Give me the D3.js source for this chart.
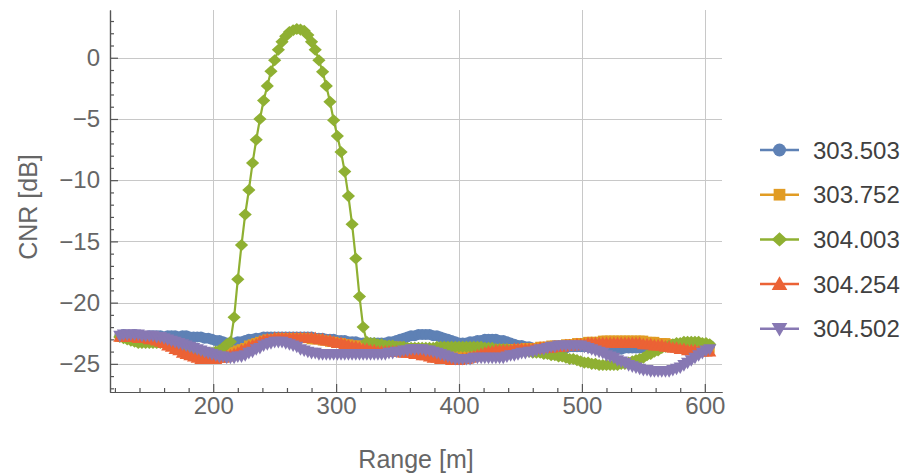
<!DOCTYPE html>
<html><head><meta charset="utf-8">
<script src="https://cdn.jsdelivr.net/npm/d3@7"></script>
<style>body{margin:0;background:#fff;} svg{display:block;}</style>
</head><body><svg id="c" width="908" height="475"></svg>
<script>
// ---------- data ----------
const seriesNames = ["303.503","303.752","304.003","304.254","304.502"];
const colors = ["#5E81B5","#E19C24","#8FB032","#EB6235","#8778B3"];
const markerKinds = ["circle","square","diamond","triUp","triDown"];
const xTicks = [200,300,400,500,600];
const yTicks = [0,-5,-10,-15,-20,-25];
const xLabel = "Range [m]";
const yLabel = "CNR [dB]";
// range gates (m)
const ranges = d3.range(124, 605, 3);

const s303503 = [
-22.7,-22.6,-22.7,-22.7,-22.6,-22.7,-22.7,-22.8,-22.7,-22.7,
-22.7,-22.7,-22.8,-22.7,-22.7,-22.7,-22.8,-22.7,-22.7,-22.8,
-22.8,-22.8,-22.8,-22.9,-22.9,-23.0,-23.1,-23.1,-23.2,-23.3,
-23.3,-23.3,-23.2,-23.2,-23.1,-23.0,-23.0,-22.9,-22.9,-22.8,
-22.8,-22.8,-22.8,-22.8,-22.8,-22.8,-22.8,-22.8,-22.8,-22.8,
-22.8,-22.8,-22.8,-22.9,-22.9,-22.9,-23.0,-23.0,-23.0,-23.1,
-23.1,-23.1,-23.2,-23.2,-23.2,-23.3,-23.3,-23.3,-23.3,-23.3,
-23.3,-23.3,-23.3,-23.2,-23.2,-23.1,-23.0,-22.9,-22.8,-22.7,
-22.7,-22.6,-22.6,-22.6,-22.6,-22.7,-22.7,-22.8,-22.9,-23.0,
-23.1,-23.2,-23.3,-23.3,-23.3,-23.2,-23.2,-23.1,-23.1,-23.0,
-23.0,-23.0,-23.0,-23.1,-23.1,-23.2,-23.3,-23.4,-23.5,-23.5,
-23.6,-23.6,-23.7,-23.7,-23.7,-23.7,-23.7,-23.7,-23.7,-23.7,
-23.7,-23.7,-23.6,-23.6,-23.6,-23.6,-23.6,-23.6,-23.7,-23.7,
-23.7,-23.8,-23.8,-23.8,-23.8,-23.8,-23.8,-23.7,-23.7,-23.7,
-23.7,-23.7,-23.7,-23.6,-23.6,-23.6,-23.6,-23.6,-23.6,-23.6,
-23.6,-23.6,-23.6,-23.6,-23.6,-23.5,-23.5,-23.5,-23.5,-23.5,-23.5];

const s303752 = [
-22.8,-22.8,-22.8,-22.8,-22.9,-22.9,-22.9,-23.0,-23.0,-23.1,
-23.1,-23.2,-23.3,-23.4,-23.5,-23.7,-23.8,-23.9,-24.0,-24.1,
-24.2,-24.3,-24.4,-24.4,-24.4,-24.4,-24.4,-24.3,-24.3,-24.2,
-24.1,-24.0,-23.9,-23.8,-23.7,-23.5,-23.4,-23.3,-23.2,-23.1,
-23.0,-23.0,-23.0,-22.9,-22.9,-22.9,-22.9,-22.9,-22.9,-22.9,
-22.9,-22.9,-23.0,-23.0,-23.0,-23.1,-23.1,-23.2,-23.2,-23.3,
-23.3,-23.4,-23.4,-23.5,-23.5,-23.5,-23.6,-23.6,-23.6,-23.6,
-23.6,-23.6,-23.6,-23.6,-23.6,-23.6,-23.6,-23.7,-23.7,-23.7,
-23.7,-23.8,-23.8,-23.9,-23.9,-24.0,-24.0,-24.1,-24.1,-24.2,
-24.2,-24.2,-24.2,-24.2,-24.2,-24.1,-24.1,-24.0,-24.0,-23.9,
-23.9,-23.8,-23.8,-23.8,-23.8,-23.8,-23.8,-23.8,-23.8,-23.8,
-23.7,-23.7,-23.7,-23.7,-23.6,-23.6,-23.6,-23.5,-23.5,-23.5,
-23.5,-23.4,-23.4,-23.4,-23.3,-23.3,-23.3,-23.2,-23.2,-23.2,
-23.2,-23.1,-23.1,-23.1,-23.1,-23.1,-23.1,-23.1,-23.1,-23.1,
-23.1,-23.1,-23.1,-23.2,-23.2,-23.2,-23.3,-23.3,-23.3,-23.4,
-23.4,-23.4,-23.5,-23.5,-23.5,-23.6,-23.6,-23.6,-23.7,-23.7,-23.7];

const s304003 = [
-22.8,-22.9,-23.0,-23.1,-23.2,-23.3,-23.3,-23.3,-23.3,-23.3,
-23.3,-23.3,-23.3,-23.4,-23.4,-23.5,-23.6,-23.7,-23.8,-23.9,
-24.0,-24.1,-24.2,-24.2,-24.2,-24.1,-24.0,-23.9,-23.7,-23.4,
-23.2,-21.2,-18.1,-15.3,-12.8,-10.8,-8.6,-6.7,-5.0,-3.5,
-2.3,-1.1,-0.2,0.65,1.3,1.75,2.1,2.25,2.35,2.3,
2.2,1.85,1.3,0.65,-0.2,-1.15,-2.3,-3.6,-5.1,-6.4,
-7.7,-9.3,-11.3,-13.6,-16.4,-19.5,-22.0,-23.2,-23.3,-23.3,
-23.4,-23.4,-23.5,-23.5,-23.5,-23.6,-23.6,-23.6,-23.7,-23.7,
-23.7,-23.7,-23.7,-23.7,-23.7,-23.7,-23.6,-23.6,-23.6,-23.6,
-23.6,-23.6,-23.6,-23.6,-23.6,-23.6,-23.6,-23.6,-23.6,-23.7,
-23.7,-23.7,-23.8,-23.8,-23.8,-23.8,-23.9,-23.9,-23.9,-24.0,
-24.0,-24.0,-24.1,-24.1,-24.1,-24.2,-24.2,-24.3,-24.3,-24.4,
-24.4,-24.5,-24.6,-24.6,-24.7,-24.8,-24.9,-24.9,-25.0,-25.0,
-25.1,-25.1,-25.1,-25.1,-25.1,-25.1,-25.0,-25.0,-24.9,-24.8,
-24.7,-24.6,-24.5,-24.3,-24.2,-24.0,-23.9,-23.7,-23.6,-23.5,
-23.4,-23.3,-23.3,-23.2,-23.2,-23.2,-23.2,-23.2,-23.3,-23.3,-23.4];

const s304254 = [
-22.8,-22.8,-22.8,-22.8,-22.8,-22.9,-22.9,-22.9,-23.0,-23.0,
-23.1,-23.2,-23.3,-23.5,-23.6,-23.8,-23.9,-24.1,-24.2,-24.3,
-24.4,-24.5,-24.6,-24.6,-24.6,-24.6,-24.6,-24.5,-24.5,-24.4,
-24.3,-24.2,-24.1,-23.9,-23.8,-23.6,-23.5,-23.4,-23.2,-23.1,
-23.0,-23.0,-22.9,-22.9,-22.9,-22.9,-22.9,-22.9,-22.9,-22.9,
-22.9,-22.9,-22.9,-22.9,-23.0,-23.0,-23.1,-23.1,-23.2,-23.3,
-23.3,-23.4,-23.5,-23.6,-23.6,-23.7,-23.8,-23.8,-23.9,-23.9,
-24.0,-24.0,-24.0,-24.0,-24.0,-24.0,-24.0,-24.1,-24.1,-24.1,
-24.2,-24.2,-24.3,-24.3,-24.4,-24.5,-24.5,-24.6,-24.6,-24.6,
-24.7,-24.7,-24.7,-24.6,-24.6,-24.5,-24.4,-24.3,-24.2,-24.1,
-24.0,-24.0,-23.9,-23.9,-23.9,-23.9,-23.9,-23.8,-23.8,-23.8,
-23.8,-23.8,-23.8,-23.8,-23.7,-23.7,-23.7,-23.7,-23.6,-23.6,
-23.6,-23.5,-23.5,-23.5,-23.4,-23.4,-23.4,-23.3,-23.3,-23.3,
-23.3,-23.3,-23.3,-23.3,-23.3,-23.3,-23.3,-23.3,-23.3,-23.3,
-23.3,-23.3,-23.4,-23.4,-23.4,-23.5,-23.5,-23.5,-23.6,-23.6,
-23.7,-23.7,-23.8,-23.8,-23.9,-23.9,-23.9,-24.0,-24.0,-24.0,-24.0];

const s304502 = [
-22.7,-22.6,-22.6,-22.6,-22.6,-22.6,-22.7,-22.7,-22.7,-22.7,
-22.8,-22.8,-22.9,-23.0,-23.1,-23.2,-23.3,-23.4,-23.5,-23.6,
-23.7,-23.8,-23.9,-24.0,-24.1,-24.2,-24.3,-24.4,-24.4,-24.5,
-24.5,-24.5,-24.4,-24.4,-24.3,-24.1,-24.0,-23.8,-23.7,-23.5,
-23.4,-23.3,-23.2,-23.2,-23.2,-23.3,-23.4,-23.5,-23.6,-23.8,
-23.9,-24.0,-24.1,-24.1,-24.2,-24.2,-24.2,-24.2,-24.2,-24.2,
-24.2,-24.2,-24.2,-24.2,-24.2,-24.2,-24.2,-24.2,-24.2,-24.2,
-24.2,-24.2,-24.2,-24.1,-24.1,-24.0,-24.0,-23.9,-23.9,-23.8,
-23.8,-23.8,-23.8,-23.9,-23.9,-24.0,-24.1,-24.2,-24.3,-24.4,
-24.5,-24.6,-24.6,-24.6,-24.6,-24.6,-24.5,-24.5,-24.5,-24.5,
-24.5,-24.5,-24.5,-24.5,-24.5,-24.4,-24.3,-24.3,-24.2,-24.1,
-24.1,-24.0,-24.0,-23.9,-23.8,-23.8,-23.7,-23.6,-23.6,-23.5,
-23.5,-23.5,-23.5,-23.5,-23.5,-23.5,-23.6,-23.7,-23.8,-23.9,
-24.0,-24.1,-24.3,-24.4,-24.5,-24.7,-24.8,-24.9,-25.1,-25.2,
-25.3,-25.4,-25.5,-25.5,-25.6,-25.6,-25.6,-25.6,-25.6,-25.6,
-25.5,-25.4,-25.3,-25.1,-24.9,-24.7,-24.5,-24.3,-24.1,-23.9,-23.8];

const seriesValues = [s303503, s303752, s304003, s304254, s304502];

// ---------- layout ----------
const svg = d3.select("#c");
const X0 = 110, X1 = 722, Y0 = 392, Y1 = 10;
const x = d3.scaleLinear().domain([116, 614]).range([X0, X1]);
const y = d3.scaleLinear().domain([-27.3, 3.9]).range([Y0, Y1]);
const font = "'Liberation Sans', Arial, sans-serif";
const minus = d => d < 0 ? "\u2212" + Math.abs(d) : String(d);

// grid
const grid = svg.append("g").attr("stroke", "#c8c8c8").attr("stroke-width", 1);
grid.selectAll("line.v").data(xTicks).join("line")
  .attr("x1", d => Math.round(x(d)) + 0.5).attr("x2", d => Math.round(x(d)) + 0.5)
  .attr("y1", Y1).attr("y2", Y0);
grid.selectAll("line.h").data(yTicks).join("line")
  .attr("y1", d => Math.round(y(d)) + 0.5).attr("y2", d => Math.round(y(d)) + 0.5)
  .attr("x1", X0).attr("x2", X1);

// axes
const minorY = d3.range(-27, 4).filter(v => v % 5 !== 0);
const minorX = d3.range(120, 614, 20).filter(v => v % 100 !== 0);

function styleAxis(g) {
  g.selectAll("path,line").attr("stroke", "#555").attr("stroke-width", 1.2);
  g.selectAll("text").attr("fill", "#666").style("font-family", font).style("font-size", "24px");
}
svg.append("g").attr("transform", `translate(${X0},0)`)
  .call(d3.axisLeft(y).tickValues(minorY).tickSize(-4).tickSizeOuter(0).tickFormat(""))
  .call(styleAxis);
svg.append("g").attr("transform", `translate(${X0},0)`)
  .call(d3.axisLeft(y).tickValues(yTicks).tickSize(-8).tickSizeOuter(0).tickPadding(10).tickFormat(minus))
  .call(styleAxis);
svg.append("g").attr("transform", `translate(0,${Y0})`)
  .call(d3.axisBottom(x).tickValues(minorX).tickSize(-4).tickSizeOuter(0).tickFormat(""))
  .call(styleAxis);
svg.append("g").attr("transform", `translate(0,${Y0})`)
  .call(d3.axisBottom(x).tickValues(xTicks).tickSize(-8).tickSizeOuter(0).tickPadding(5).tickFormat(d => d))
  .call(styleAxis);

// axis labels
svg.append("text").attr("x", (X0 + X1) / 2).attr("y", 468).attr("text-anchor", "middle")
  .attr("fill", "#666").style("font-family", font).style("font-size", "25px").text(xLabel);
svg.append("text").attr("transform", `translate(37,${(Y0 + Y1) / 2 + 6}) rotate(-90)`)
  .attr("text-anchor", "middle").attr("fill", "#666")
  .style("font-family", font).style("font-size", "25px").text(yLabel);

// marker shapes
function markerPath(kind, s) {
  switch (kind) {
    case "circle": return d3.symbol(d3.symbolCircle, Math.PI * (5 * s) ** 2)();
    case "square": { const h = 4.5 * s; return `M${-h},${-h}H${h}V${h}H${-h}Z`; }
    case "diamond": { const a = 6 * s, b = 5.5 * s; return `M0,${-b}L${a},0L0,${b}L${-a},0Z`; }
    case "triUp": { const a = 6 * s; return `M0,${-a}L${a},${a * 0.75}L${-a},${a * 0.75}Z`; }
    case "triDown": { const a = 6 * s; return `M0,${a}L${a},${-a * 0.75}L${-a},${-a * 0.75}Z`; }
  }
}

// series
svg.append("clipPath").attr("id", "clip").append("rect")
  .attr("x", X0).attr("y", 0).attr("width", X1 - X0 + 10).attr("height", Y0);
const plot = svg.append("g").attr("clip-path", "url(#clip)");
const line = d3.line().x(d => x(d[0])).y(d => y(d[1]));
seriesValues.forEach((vals, i) => {
  const pts = vals.map((v, j) => [ranges[j], v]);
  const g = plot.append("g");
  g.append("path").datum(pts).attr("d", line).attr("fill", "none")
    .attr("stroke", colors[i]).attr("stroke-width", 2.2);
  g.selectAll("path.m").data(pts).join("path").attr("class", "m")
    .attr("transform", d => `translate(${x(d[0])},${y(d[1])})`)
    .attr("d", markerPath(markerKinds[i], 1.1)).attr("fill", colors[i]);
});

// legend
const legendY0 = 150, legendDY = 44.7;
seriesNames.forEach((name, i) => {
  const yy = legendY0 + i * legendDY;
  const g = svg.append("g");
  g.append("line").attr("x1", 760).attr("x2", 799).attr("y1", yy).attr("y2", yy)
    .attr("stroke", colors[i]).attr("stroke-width", 2.5);
  g.append("path").attr("transform", `translate(779.5,${yy})`)
    .attr("d", markerPath(markerKinds[i], 1.3)).attr("fill", colors[i]);
  g.append("text").attr("x", 813).attr("y", yy + 8.5).attr("fill", "#404040")
    .style("font-family", font).style("font-size", "24px").text(name);
});
</script>
</body></html>
